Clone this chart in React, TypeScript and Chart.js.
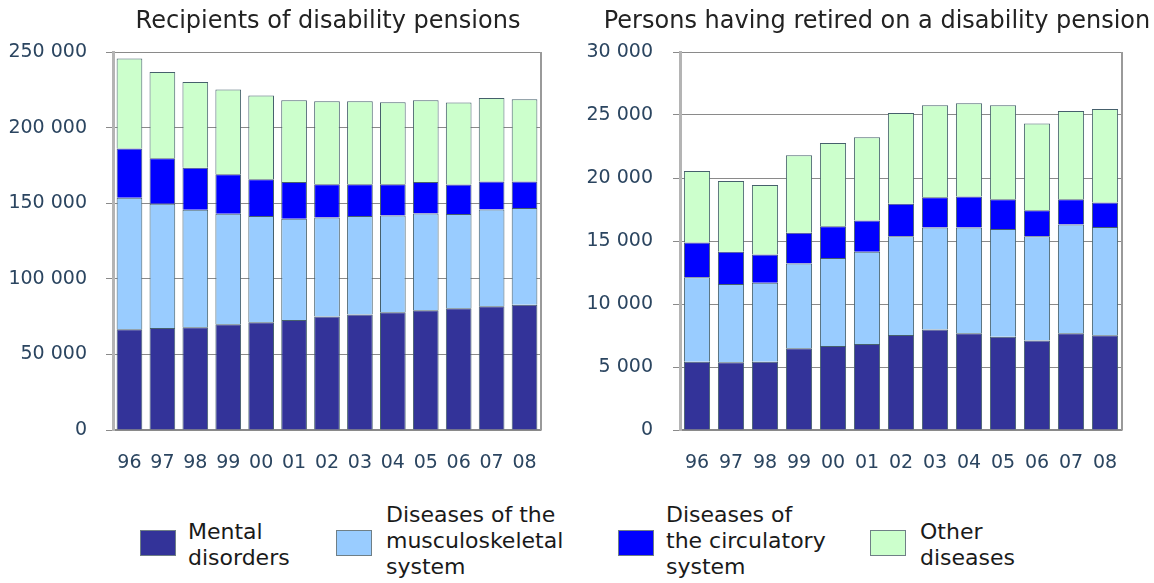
import React, { useEffect, useRef } from 'react';
import { Chart, registerables } from 'chart.js';

Chart.register(...registerables);

const years = ['96', '97', '98', '99', '00', '01', '02', '03', '04', '05', '06', '07', '08'];

const seriesNames = [
  ['Mental', 'disorders'],
  ['Diseases of the', 'musculoskeletal', 'system'],
  ['Diseases of', 'the circulatory', 'system'],
  ['Other', 'diseases'],
];
const seriesColors = ['#333399', '#99CCFF', '#0000FF', '#CCFFCC'];

const recipMental = [66600, 67500, 68000, 69900, 71300, 72800, 75000, 76400, 77900, 79200, 80500, 81900, 82800];
const recipMusculo = [87000, 82200, 77700, 73100, 70200, 66900, 65600, 65100, 64000, 64000, 62300, 64000, 64000];
const recipCirc = [32500, 30000, 27800, 26100, 24300, 24300, 22000, 21100, 20700, 20800, 19500, 18500, 17600];
const recipOther = [59600, 57100, 56700, 56100, 55400, 54100, 54800, 54800, 54200, 54100, 54300, 55200, 54300];

const retMental = [5420, 5370, 5420, 6480, 6660, 6820, 7530, 7980, 7670, 7400, 7110, 7670, 7510];
const retMusculo = [6710, 6210, 6260, 6740, 7000, 7320, 7850, 8090, 8400, 8560, 8270, 8640, 8610];
const retCirc = [2750, 2560, 2250, 2430, 2520, 2490, 2570, 2410, 2460, 2360, 2070, 2010, 1940];
const retOther = [5680, 5630, 5520, 6160, 6600, 6600, 7210, 7290, 7400, 7450, 6870, 7000, 7420];

const leftTitle = 'Recipients of disability pensions';
const rightTitle = 'Persons having retired on a disability pension';

const FONT = "'DejaVu Sans', sans-serif";
const TICK_COLOR = '#2b4560';

function fmt(v: number): string {
  return String(v).replace(/\B(?=(\d{3})+(?!\d))/g, ' ');
}

const framePlugin = {
  id: 'frameRight',
  beforeDatasetsDraw(chart: any) {
    const { ctx, chartArea: a } = chart;
    ctx.save();
    ctx.strokeStyle = '#9a9a9a';
    ctx.lineWidth = 2;
    ctx.beginPath();
    ctx.moveTo(a.right, a.top);
    ctx.lineTo(a.right, a.bottom);
    ctx.stroke();
    ctx.restore();
  },
};

type Props = {
  data: number[][];
  max: number;
  step: number;
  width: number;
  height: number;
  yWidth: number;
  padRight: number;
  yPad: number;
  barPct: number;
};

function StackedChart({ data, max, step, width, height, yWidth, padRight, yPad, barPct }: Props) {
  const ref = useRef<HTMLCanvasElement>(null);
  useEffect(() => {
    if (!ref.current) return;
    const chart = new Chart(ref.current, {
      type: 'bar',
      data: {
        labels: years,
        datasets: data.map((d, i) => ({
          label: seriesNames[i].join(' '),
          data: d,
          backgroundColor: seriesColors[i],
          borderColor: '#46606c',
          borderWidth: 1,
          categoryPercentage: 1,
          barPercentage: barPct,
        })),
      },
      options: {
        responsive: false,
        animation: false,
        layout: { padding: { top: 52, right: padRight, left: 0, bottom: 0 } },
        plugins: { legend: { display: false }, tooltip: { enabled: false }, title: { display: false } },
        scales: {
          x: {
            stacked: true,
            grid: { display: false, drawTicks: false },
            border: { display: true, color: '#8a8a8a', width: 1.5 },
            ticks: { color: TICK_COLOR, font: { family: FONT, size: 19 }, padding: 22, maxRotation: 0 },
            afterFit: (s: any) => { s.height = 60; },
          },
          y: {
            stacked: true,
            min: 0,
            max,
            ticks: { stepSize: step, color: TICK_COLOR, font: { family: FONT, size: 19 }, padding: yPad, callback: (v: any) => fmt(Number(v)) },
            grid: { color: '#8a8a8a', lineWidth: 1, tickLength: 7, drawTicks: true },
            border: { display: true, color: '#b4b4b4', width: 3 },
            afterFit: (s: any) => { s.width = yWidth; },
          },
        },
      },
      plugins: [framePlugin],
    });
    return () => chart.destroy();
  }, []);
  return <canvas ref={ref} width={width} height={height} style={{ width, height, display: 'block' }} />;
}

function LegendItem({ idx, left, boxLeft }: { idx: number; left: number; boxLeft: number }) {
  const lines = seriesNames[idx];
  const lh = 26;
  const centerY = lines.length === 3 ? 541 : 545;
  return (
    <>
      <div
        style={{
          position: 'absolute',
          left: boxLeft,
          top: 530,
          width: 36,
          height: 26,
          background: seriesColors[idx],
          border: '1px solid #6f7f86',
          boxSizing: 'border-box',
        }}
      />
      <div
        style={{
          position: 'absolute',
          left,
          top: centerY - (lines.length * lh) / 2,
          fontFamily: FONT,
          fontSize: 22,
          lineHeight: lh + 'px',
          color: '#1a1a1a',
          whiteSpace: 'nowrap',
        }}
      >
        {lines.map((l, i) => (
          <div key={i}>{l}</div>
        ))}
      </div>
    </>
  );
}

export default function App() {
  const titleStyle: React.CSSProperties = {
    position: 'absolute',
    top: 5,
    fontFamily: FONT,
    fontSize: 24,
    lineHeight: '30px',
    color: '#222',
    whiteSpace: 'nowrap',
    transform: 'translateX(-50%)',
  };
  return (
    <div style={{ position: 'absolute', left: 0, top: 0, width: 1154, height: 583, overflow: 'hidden', background: '#fff' }}>
      <div style={{ position: 'absolute', left: 0, top: 0 }}>
        <StackedChart
          data={[recipMental, recipMusculo, recipCirc, recipOther]}
          max={250000}
          step={50000}
          width={570}
          height={490}
          yWidth={113}
          padRight={29}
          yPad={19}
          barPct={0.78}
        />
      </div>
      <div style={{ position: 'absolute', left: 575, top: 0 }}>
        <StackedChart
          data={[retMental, retMusculo, retCirc, retOther]}
          max={30000}
          step={5000}
          width={579}
          height={490}
          yWidth={105}
          padRight={32}
          yPad={20}
          barPct={0.77}
        />
      </div>
      <div style={{ ...titleStyle, left: 328 }}>{leftTitle}</div>
      <div style={{ ...titleStyle, left: 877 }}>{rightTitle}</div>
      <LegendItem idx={0} boxLeft={140} left={188} />
      <LegendItem idx={1} boxLeft={336} left={386} />
      <LegendItem idx={2} boxLeft={618} left={666} />
      <LegendItem idx={3} boxLeft={870} left={920} />
    </div>
  );
}
